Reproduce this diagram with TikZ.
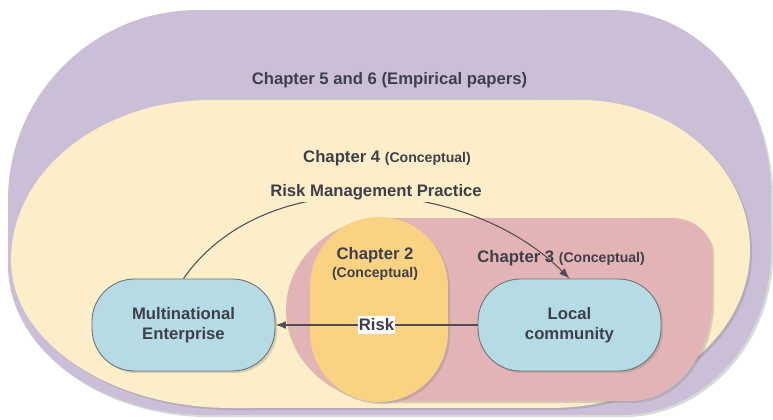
\documentclass[tikz,border=0pt]{standalone}
\usepackage{fontspec}
\setmainfont{Liberation Sans}
\usetikzlibrary{arrows.meta,shadows}
\definecolor{chapsix}{HTML}{CBBFD8}
\definecolor{chapfour}{HTML}{FCEEC8}
\definecolor{chapthree}{HTML}{E3B4B5}
\definecolor{chaptwo}{HTML}{F9D282}
\definecolor{actor}{HTML}{B5DCE5}
\definecolor{txtcol}{HTML}{3F3F4A}
\definecolor{linecol}{HTML}{4E4E55}
\def\concept{{\fontsize{8}{9.6}\selectfont (Conceptual)}}
\tikzset{
  layer/.style={drop shadow={shadow xshift=1.2pt, shadow yshift=-1.2pt, opacity=0.3}},
  chap/.style={font=\fontsize{9.5}{11.4}\selectfont\bfseries, text=txtcol},
  party/.style={chap, draw=linecol!80, line width=0.5pt, fill=actor, rounded corners=0.85cm,
    minimum width=3.66cm, minimum height=1.84cm, align=center, layer},
  flow/.style={draw=linecol, line width=0.6pt, -{Latex[length=6pt,width=4.5pt]}}
}

\begin{document}
\begin{tikzpicture}[x=0.02cm, y=0.02cm]
  %%%%% START %%%%%
  \useasboundingbox (0,0) rectangle (773,419);

  % chapter 5 and 6
  \fill[layer, fill=chapsix] (8,219) arc[start angle=180, end angle=90, x radius=3.8cm, y radius=3.8cm]
    -- (611,409) arc[start angle=90, end angle=0, x radius=3.2cm, y radius=3.7cm]
    -- (771,169) arc[start angle=0, end angle=-90, x radius=3cm, y radius=3.3cm]
    -- (208,4) arc[start angle=-90, end angle=-180, x radius=4cm, y radius=3cm] -- cycle;

  % chapter 4
  \fill[layer, fill=chapfour] (11,159) arc[start angle=180, end angle=90, x radius=4cm, y radius=3.2cm]
    -- (580,319) arc[start angle=90, end angle=0, x radius=3.4cm, y radius=3cm]
    -- (750,169) arc[start angle=0, end angle=-90, x radius=4cm, y radius=3.16cm]
    -- (231,11) arc[start angle=-90, end angle=-180, x radius=4.4cm, y radius=2.96cm] -- cycle;

  % chapter 3
  \fill[layer, fill=chapthree] (286,109) arc[start angle=180, end angle=90, x radius=2cm, y radius=1.84cm]
    -- (672,201) arc[start angle=90, end angle=0, x radius=0.8cm, y radius=0.7cm]
    -- (712,119) arc[start angle=0, end angle=-90, x radius=1.64cm, y radius=2.02cm]
    -- (386,18) arc[start angle=-90, end angle=-180, x radius=2cm, y radius=1.82cm] -- cycle;

  % chapter 2
  \fill[layer, fill=chaptwo] (310,132) arc[start angle=180, end angle=0, x radius=1.38cm, y radius=1.4cm]
    -- (448,87) arc[start angle=0, end angle=-180, x radius=1.38cm, y radius=1.4cm] -- cycle;

  \node[party] (mne) at (183.5,94) {Multinational\\Enterprise};
  \node[party] (lc) at (569.5,94) {Local\\community};

  \node[chap] (ch56) at (389.5,339) {Chapter 5 and 6 (Empirical papers)};
  \node[chap] (ch4) at (387,261) {Chapter 4 \concept};
  \node[chap, align=center] (ch2) at (375,155) {Chapter 2\\[-1.2pt]\concept};
  \node[chap] (ch3) at (561,161) {Chapter 3 \concept};

  \draw[flow] (mne.north) to[out=55, in=135, looseness=0.95] (lc.north);
  \node[chap, fill=chapfour, inner sep=1pt] (rmp) at (376,227) {Risk Management Practice};
  \draw[flow, line width=0.9pt] (lc) -- node[chap, fill=white, inner xsep=0.5pt, inner ysep=1.5pt] (risk) {Risk} (mne);

  %%%%% END %%%%%
\end{tikzpicture}
\end{document}
